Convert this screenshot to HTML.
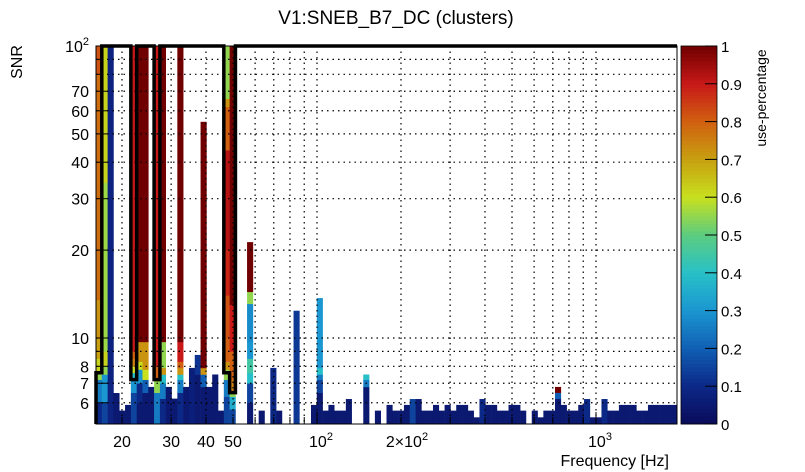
<!DOCTYPE html>
<html><head><meta charset="utf-8"><style>
html,body{margin:0;padding:0;background:#fff;}
svg{display:block;font-family:"Liberation Sans",Arial,sans-serif;}
</style></head><body>
<svg id="chart" width="805" height="472" viewBox="0 0 805 472">
<rect width="805" height="472" fill="#fff"/>
<text x="396" y="24" font-size="19" text-anchor="middle">V1:SNEB_B7_DC (clusters)</text>
<g id="cells"></g>
<g id="grid"></g>
<g id="outline"></g>
<rect x="96" y="46" width="581" height="378" fill="none" stroke="#000" stroke-width="1"/>
<g id="axes"></g>
<text transform="translate(22,62) rotate(-90)" font-size="16" text-anchor="middle">SNR</text>
<text x="669" y="466" font-size="16" text-anchor="end">Frequency [Hz]</text>
<g id="cbar"></g>
<text transform="translate(766,98) rotate(-90)" font-size="14" text-anchor="middle">use-percentage</text>
</svg>
<script>
// ---- data ----
const nBins = 100;
const colIndex = [0,1,2,3,4,5,6,7,8,9,10,11,12,13,14,15,16,17,18,19,20,21,22,23,26,28,
 30,31,34,37,38,39,40,41,42,43,46,48,50,51,52,53,54,55,56,57,58,59,60,61,62,63,64,65,66,67,68,69,70,71,72,73,
 75,76,77,78,79,80,81,82,83,84,85,86,87,88,89,90,91,92,93,94,95,96,97,98,99];
// segments per column: [top SNR, use-percentage], bottom-up
const colSegments = [
 [[6,0.1],[7.2,0.25],[7.7,0.55],[8.5,0.62],[10,0.7],[13.5,0.72],[80,0.78],[100,0.82]],
 [[6,0.15],[7.5,0.3],[8,0.55],[9,0.62],[34,0.56],[100,0.62]],
 [[100,0.08]],
 [[6.48,0.05]],
 [[5.64,0.05]],
 [[5.9,0.05]],
 [[6.5,0.15],[7.2,0.3],[7.6,0.4],[8,0.6],[8.5,0.75],[9,0.8],[100,0.9]],
 [[6,0.05],[7,0.1],[7.8,0.3],[8.3,0.6],[9.7,0.72],[100,1]],
 [[6.5,0.05],[7.2,0.2],[7.8,0.6],[9.7,0.72],[100,1]],
 [[6.8,0.05]],
 [[6.5,0.25],[7.2,0.55],[8,0.8],[100,0.9]],
 [[6.2,0.1],[7,0.25],[7.5,0.4],[7.9,0.72],[9.7,0.55],[100,1]],
 [[6.8,0.05]],
 [[6.2,0.05]],
 [[6.5,0.1],[7.2,0.25],[7.5,0.4],[7.9,0.72],[8.3,0.8],[9.7,0.9],[100,1]],
 [[6.8,0.05]],
 [[7.9,0.07]],
 [[7.5,0.05],[8.75,0.12]],
 [[6.8,0.05],[7.5,0.2],[7.9,0.72],[55,1]],
 [[6.8,0.05]],
 [[7.5,0.05]],
 [[5.64,0.05]],
 [[6.3,0.15],[7.2,0.25],[7.8,0.55],[8.3,0.72],[10,0.8],[14,0.82],[20,0.88],[44,0.92],[62,0.8],[66,0.72],[100,0.55]],
 [[5.7,0.15],[6.3,0.35],[6.6,0.55],[7.2,0.75],[9,0.8],[13,0.9],[100,1]],
 [[6,0.05],[7,0.15],[7.6,0.4],[8.5,0.45],[9.7,0.3],[13.1,0.28],[14.4,0.55],[21.3,1]],
 [[5.64,0.05]],
 [[7.9,0.1]],[[5.64,0.05]],[[12.4,0.13]],[[5.9,0.05]],
 [[6.5,0.05],[7.2,0.15],[7.5,0.25],[7.9,0.4],[13.7,0.3]],
 [[5.64,0.05]],[[5.9,0.05]],[[5.64,0.05]],[[5.64,0.05]],[[6.18,0.05]],
 [[6.8,0.05],[7.2,0.25],[7.5,0.4]],
 [[5.64,0.05]],[[5.9,0.05]],[[5.64,0.05]],[[5.64,0.05]],[[5.9,0.05]],[[6.18,0.15]],[[6.18,0.05]],
 [[5.64,0.05]],[[5.64,0.05]],[[5.9,0.05]],[[5.64,0.05]],[[5.9,0.05]],[[5.64,0.05]],[[5.9,0.05]],[[5.9,0.05]],
 [[5.64,0.05]],[[5.35,0.05]],[[6.18,0.1]],[[5.9,0.05]],[[5.9,0.05]],[[5.64,0.05]],[[5.64,0.05]],[[5.9,0.05]],[[5.9,0.05]],[[5.64,0.05]],
 [[5.64,0.05]],[[5.35,0.05]],[[5.64,0.05]],[[5.64,0.05]],
 [[6.2,0.05],[6.5,0.2],[6.8,1]],
 [[5.9,0.05]],[[5.64,0.05]],[[5.64,0.05]],[[5.9,0.05]],[[6.18,0.1]],[[5.35,0.05]],[[5.35,0.05]],[[6.18,0.1]],
 [[5.64,0.05]],[[5.64,0.05]],[[5.9,0.05]],[[5.9,0.05]],[[5.9,0.05]],[[5.64,0.05]],[[5.64,0.05]],
 [[5.9,0.05]],[[5.9,0.05]],[[5.9,0.05]],[[5.9,0.05]],[[5.9,0.05]]
];
// outline vertices: [bin edge index, SNR]
const outlineEdges = [0,0,1,1,6,6,7,7,10,10,11,11,22,22,23,23,24,24,100];
const outlineSnr = [5.075,7.6,7.6,100,100,7.2,7.2,100,100,7.2,7.2,100,100,7.6,7.6,6.5,6.5,100,100];
const yTicks = [6,7,8,10,20,30,40,50,60,70];
const yGrid = [6,7,8,9,10,20,30,40,50,60,70,80,90];
const xGrid = [20,30,40,50,60,70,80,90,100,200,300,400,500,600,700,800,900,1000];
const xLabels = [20,30,40,50];
const cbTicks = [0,0.1,0.2,0.3,0.4,0.5,0.6,0.7,0.8,0.9,1];

// ---- scales ----
const X0=96,X1=677,Y0=46,Y1=424;
const xPix = f => 317 + (Math.log10(f)-2)*279;
const yPix = s => 338 - (Math.log10(s)-1)*292;
const fMin = Math.pow(10, 2-(317-X0)/279);
const dl = ((X1-X0)/279)/nBins;
const edgeX = i => xPix(Math.pow(10, Math.log10(fMin)+i*dl));
const snrMin = Math.pow(10, 1-(Y1-338)/292);
const stops=[[0,[10,10,90]],[0.1,[12,40,135]],[0.2,[16,95,180]],[0.3,[26,150,208]],[0.4,[40,192,200]],[0.5,[92,204,128]],[0.6,[200,224,30]],[0.7,[200,160,16]],[0.8,[208,96,16]],[0.9,[200,24,24]],[1,[112,0,0]]];
function col(v){for(let i=1;i<stops.length;i++){if(v<=stops[i][0]){const a=stops[i-1],b=stops[i],t=(v-a[0])/(b[0]-a[0]);const c=a[1].map((x,k)=>Math.round(x+(b[1][k]-x)*t));return `rgb(${c})`;}}return 'rgb(112,0,0)';}
const NS='http://www.w3.org/2000/svg';
function mk(tag,attrs,parent){const e=document.createElementNS(NS,tag);for(const k in attrs)e.setAttribute(k,attrs[k]);parent.appendChild(e);return e;}

// cells
const cells=document.getElementById('cells');
colIndex.forEach((c,i)=>{
  let lo=snrMin;
  const xa=edgeX(c), xb=edgeX(c+1);
  colSegments[i].forEach(seg=>{
    const yt=yPix(Math.min(seg[0],100)), yb=yPix(lo);
    const r=mk('rect',{x:xa,y:yt,width:xb-xa+0.3,height:Math.max(0,yb-yt)+0.3,fill:col(seg[1])},cells);
    
    
    lo=seg[0];
  });
});
// grid
const grid=document.getElementById('grid');
yGrid.forEach(s=>{const l=mk('line',{x1:X0,x2:X1,y1:yPix(s),y2:yPix(s),stroke:'#000','stroke-width':1.2,'stroke-dasharray':'1.5,4'},grid);

});
xGrid.forEach(f=>{const l=mk('line',{x1:xPix(f),x2:xPix(f),y1:Y0,y2:Y1,stroke:'#000','stroke-width':1.2,'stroke-dasharray':'1.5,4'},grid);

});
// outline
const pts=outlineEdges.map((e,i)=>`${edgeX(e)},${yPix(outlineSnr[i])}`).join(' ');
const pl=mk('polyline',{points:pts,fill:'none',stroke:'#000','stroke-width':3.5,'stroke-linejoin':'miter'},document.getElementById('outline'));


// axes
const ax=document.getElementById('axes');
yGrid.forEach(s=>{mk('line',{x1:X0,x2:X0+(yTicks.includes(s)?12:6),y1:yPix(s),y2:yPix(s),stroke:'#000'},ax);});
yTicks.forEach(s=>{const t=mk('text',{x:89,y:yPix(s)+6,'font-size':16,'text-anchor':'end'},ax);t.textContent=s;

});
{const t=mk('text',{x:89,y:52,'font-size':16,'text-anchor':'end'},ax);t.innerHTML='10<tspan dy="-7" font-size="11">2</tspan>';

}
xGrid.forEach(f=>{const big=(f===100||f===1000);mk('line',{x1:xPix(f),x2:xPix(f),y1:Y1,y2:Y1-(big?12:7),stroke:'#000'},ax);});
xLabels.forEach(f=>{const t=mk('text',{x:xPix(f),y:447,'font-size':16,'text-anchor':'middle'},ax);t.textContent=f;

});
[[100,'10','2'],[1000,'10','3']].forEach(([f,b,e])=>{const t=mk('text',{x:xPix(f)+4,y:447,'font-size':16,'text-anchor':'middle'},ax);t.innerHTML=b+'<tspan dy="-7" font-size="11">'+e+'</tspan>';

});
{const t=mk('text',{x:xPix(200)+6,y:447,'font-size':16,'text-anchor':'middle'},ax);t.innerHTML='2×10<tspan dy="-7" font-size="11">2</tspan>';

}
// color bar
const cb=document.getElementById('cbar');
const CX=681,CW=36,n=100;
for(let i=0;i<n;i++){const y0=Y1-(i+1)*(Y1-Y0)/n;mk('rect',{x:CX,y:y0,width:CW,height:(Y1-Y0)/n+0.4,fill:col((i+0.5)/n)},cb);}
mk('rect',{x:CX,y:Y0,width:CW,height:Y1-Y0,fill:'none',stroke:'#000','stroke-width':0.8},cb);
cbTicks.forEach(v=>{const y=Y1-v*(Y1-Y0);mk('line',{x1:CX+CW,x2:CX+CW-12,y1:y,y2:y,stroke:'#000'},cb);
const t=mk('text',{x:CX+CW+4,y:y+6,'font-size':15},cb);t.textContent=v;

});
</script>
</body></html>
